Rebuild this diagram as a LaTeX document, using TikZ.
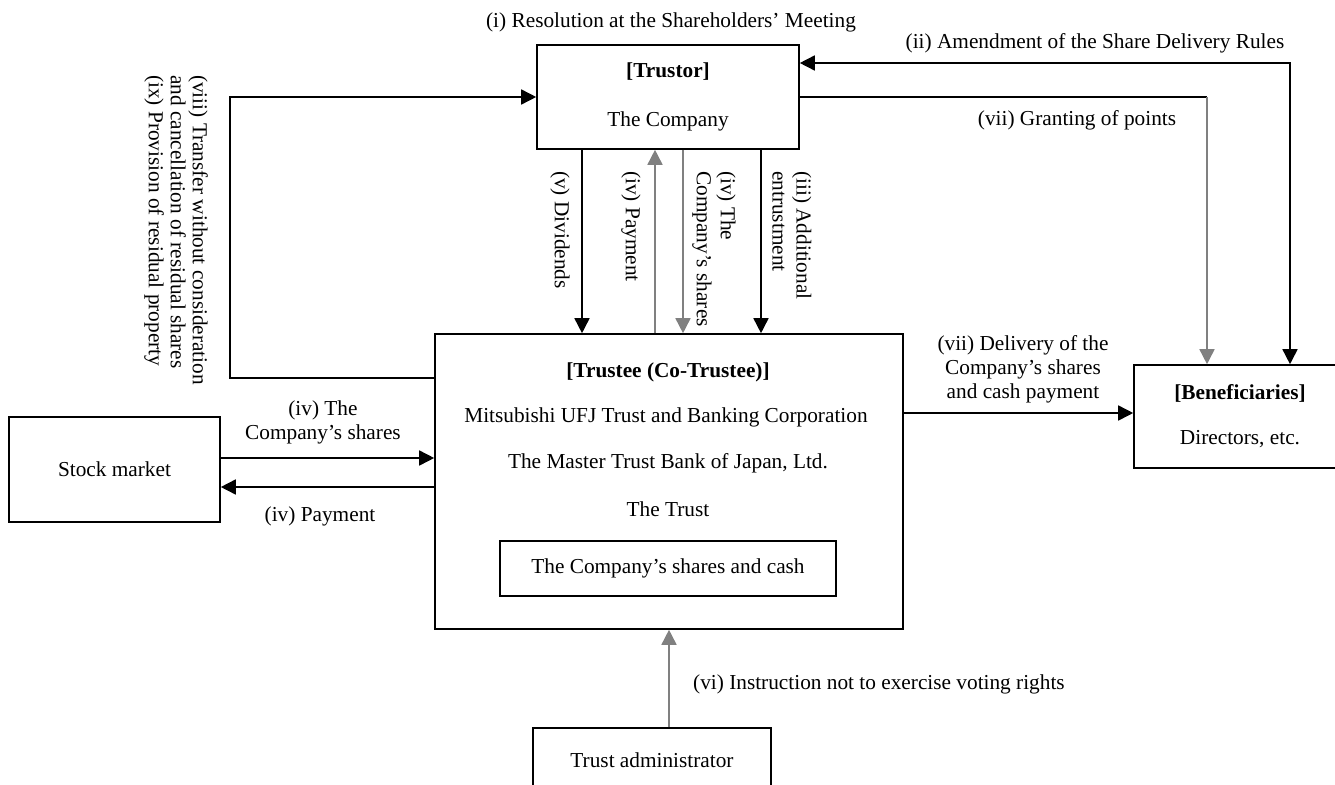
\documentclass[tikz,border=0pt]{standalone}
\usepackage{fontspec}
\setmainfont{Liberation Serif}
\usetikzlibrary{positioning,arrows.meta}

\begin{document}
\begin{tikzpicture}[x=1pt, y=-1pt,
    font=\fontsize{21.3}{24}\selectfont,
    box/.style={rectangle, draw, line width=1.6pt, inner sep=0pt, align=center},
    arr/.style={-{Triangle[length=15pt,width=15pt]}, line width=1.6pt},
    arrtwo/.style={{Triangle[length=15pt,width=15pt]}-{Triangle[length=15pt,width=15pt]}, line width=1.6pt},
    garr/.style={arr, draw=gray, fill=gray},
    lbl/.style={align=center, inner sep=0pt},
    rlbl/.style={rotate=-90, anchor=west, align=left, inner sep=0pt}
  ]
  \useasboundingbox (0,0) rectangle (1335,784);

  \node[box, minimum width=262pt, minimum height=104pt] (trustor) at (668,97) {\textbf{[Trustor]}\\[25pt]The Company};
  \node[box, minimum width=468pt, minimum height=295pt] (trustee) at (669,481.5) {};
  \node[lbl] (trusteehead) at (668,372) {\textbf{[Trustee (Co-Trustee)]}};
  \node[lbl] (mufg) at (666,417) {Mitsubishi UFJ Trust and Banking Corporation};
  \node[lbl] (mtbj) at (668,463) {The Master Trust Bank of Japan, Ltd.};
  \node[lbl] (thetrust) at (668,509) {The Trust};
  \node[box, line width=2.6pt, minimum width=336pt, minimum height=55pt] (assets) at (668,568.5) {The Company’s shares and cash};
  \node[box, minimum width=212pt, minimum height=103pt] (benef) at (1240,416.5) {\textbf{[Beneficiaries]}\\[21pt]Directors, etc.};
  \node[box, minimum width=211pt, minimum height=105pt] (stock) at (114.5,469.5) {Stock market};
  \node[box, minimum width=238pt, minimum height=64pt] (admin) at (652,760) {Trust administrator};

  \draw[arr] ([xshift=-86pt]trustor.south) -- ([xshift=-86pt]trustor.south |- trustee.north);
  \draw[garr] ([xshift=-13pt]trustor.south |- trustee.north) -- ([xshift=-13pt]trustor.south);
  \draw[garr] ([xshift=15pt]trustor.south) -- ([xshift=15pt]trustor.south |- trustee.north);
  \draw[arr] ([xshift=93pt]trustor.south) -- ([xshift=93pt]trustor.south |- trustee.north);

  \draw[arr] ([yshift=11.5pt]stock.east) -- ([yshift=11.5pt]stock.east -| trustee.west);
  \draw[arr] ([yshift=-17.5pt]stock.east -| trustee.west) -- ([yshift=-17.5pt]stock.east);

  \draw[arr] ([yshift=3.5pt]benef.west -| trustee.east) -- ([yshift=3.5pt]benef.west);
  \draw[arrtwo] ([yshift=34pt]trustor.east) -| ([xshift=50pt]benef.north);
  \coordinate (grant) at ([xshift=-33pt]benef.north);
  \draw[line width=1.6pt] (trustor.east) -- (trustor.east -| grant);
  \draw[garr] (trustor.east -| grant) -- (grant);

  \draw[arr] ([yshift=103.5pt]trustee.west) -- ++(-204,0) |- (trustor.west);
  \draw[garr] (admin.north -| trustee.south) -- (trustee.south);

  \node[lbl] (resolution) at (671,22) {(i) Resolution at the Shareholders’ Meeting};
  \node[lbl] (amend) at (1095,43) {(ii) Amendment of the Share Delivery Rules};
  \node[lbl] (granting) at (1077,120) {(vii) Granting of points};
  \node[lbl] (delivery) at (1023,369) {(vii) Delivery of the\\Company’s shares\\and cash payment};
  \node[lbl] (mktshares) at (323,422.5) {(iv) The\\Company’s shares};
  \node[lbl] (mktpay) at (320,516) {(iv) Payment};
  \node[lbl, anchor=west] (instruct) at (693,684) {(vi) Instruction not to exercise voting rights};
  \node[rlbl] (dividends) at (560,171) {(v) Dividends};
  \node[rlbl] (payment) at (631,171) {(iv) Payment};
  \node[rlbl] (shares) at (714,171) {(iv) The\\Company’s shares};
  \node[rlbl] (entrust) at (792,171) {(iii) Additional\\entrustment};
  \node[rlbl] (residual) at (176,75) {(viii) Transfer without consideration\\[-2pt]and cancellation of residual shares\\[-2pt](ix) Provision of residual property};
\end{tikzpicture}
\end{document}
